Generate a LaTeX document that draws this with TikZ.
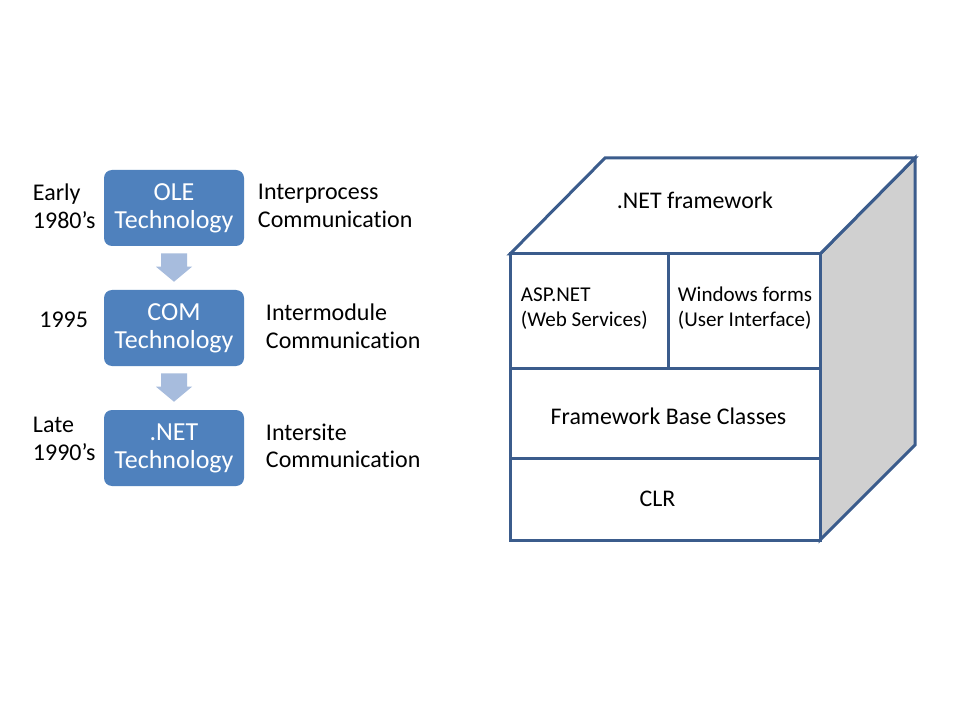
\documentclass[tikz,border=0pt]{standalone}
\usepackage{fontspec}
\setmainfont{Carlito}[Ligatures=NoCommon]
\usetikzlibrary{calc}
\definecolor{boxblue}{HTML}{4F81BD}
\definecolor{arrowblue}{HTML}{A7BCDD}
\definecolor{edgeblue}{HTML}{3B5C8C}
\definecolor{sidegray}{HTML}{D0D0D0}
\begin{document}
\begin{tikzpicture}[x=0.75pt,y=-0.75pt,
  tech/.style={rectangle, rounded corners=6pt, fill=boxblue, text=white,
    minimum width=105pt, minimum height=57pt, align=center, inner sep=0pt,
    font=\fontsize{19.5}{21}\selectfont},
  side/.style={anchor=west, align=left, inner sep=0pt,
    font=\fontsize{18}{20.7}\selectfont},
  flowarrow/.style={fill=arrowblue, draw=none},
  cubeline/.style={draw=edgeblue, line width=2.25pt, line join=miter},
  cubetext/.style={inner sep=0pt, font=\fontsize{17.9}{20}\selectfont},
  smalltext/.style={anchor=west, align=left, inner sep=0pt,
    font=\fontsize{15.8}{18.75}\selectfont}
]
\fill[white] (0,0) rectangle (960,720);
\useasboundingbox (0,0) rectangle (960,720);

% left flow
\node[tech] (ole) at (174,208) {OLE\\Technology};
\node[tech] (com) at (174,328) {COM\\Technology};
\node[tech] (net) at (174,448) {.NET\\Technology};

\fill[flowarrow] ($(ole.south)+(-13,7)$) -- ($(ole.south)+(13,7)$)
  -- ($(com.north)+(13,-23)$) -- ($(com.north)+(18,-23)$)
  -- ($(com.north)+(0,-8)$) -- ($(com.north)+(-18,-23)$)
  -- ($(com.north)+(-13,-23)$) -- cycle;
\fill[flowarrow] ($(com.south)+(-13,7)$) -- ($(com.south)+(13,7)$)
  -- ($(net.north)+(13,-23)$) -- ($(net.north)+(18,-23)$)
  -- ($(net.north)+(0,-8)$) -- ($(net.north)+(-18,-23)$)
  -- ($(net.north)+(-13,-23)$) -- cycle;

\node[side] (early) at (32.7,206) {Early\\1980’s};
\node[side, anchor=center] (y1995) at (63.7,320) {1995};
\node[side] (late) at (32.7,439) {Late\\1990’s};

\node[side] (ipc) at (257.7,206) {Interprocess\\Communication};
\node[side] (imc) at (265.7,326) {Intermodule\\Communication};
\node[side] (isc) at (265.7,446) {Intersite\\Communication};

% cube
\coordinate (fl) at (510,254);
\coordinate (fr) at (820,254);
\coordinate (br) at (820,540);
\coordinate (bl) at (510,540);
\coordinate (tl) at (605,158);
\coordinate (tr) at (915,158);
\coordinate (rb) at (915,445);
\coordinate (m1l) at (510,368);
\coordinate (m1r) at (820,368);
\coordinate (m2l) at (510,458);
\coordinate (m2r) at (820,458);
\coordinate (vt) at (668,254);
\coordinate (vb) at (668,368);

\filldraw[cubeline, fill=sidegray] (fr) -- (tr) -- (rb) -- (br) -- cycle;
\filldraw[cubeline, fill=white] (fl) -- (tl) -- (tr) -- (fr) -- cycle;
\filldraw[cubeline, fill=white] (fl) -- (fr) -- (br) -- (bl) -- cycle;
\draw[cubeline] (m1l) -- (m1r);
\draw[cubeline] (m2l) -- (m2r);
\draw[cubeline] (vt) -- (vb);

\node[cubetext] (netfw) at (695,200) {.NET framework};
\node[smalltext] (asp) at (520.7,308.5) {ASP.NET\\(Web Services)};
\node[smalltext] (win) at (677.7,308.5) {Windows forms\\(User Interface)};
\node[cubetext] (fbc) at (668.5,416.5) {Framework Base Classes};
\node[cubetext] (clr) at (657.5,499) {CLR};
\end{tikzpicture}
\end{document}
